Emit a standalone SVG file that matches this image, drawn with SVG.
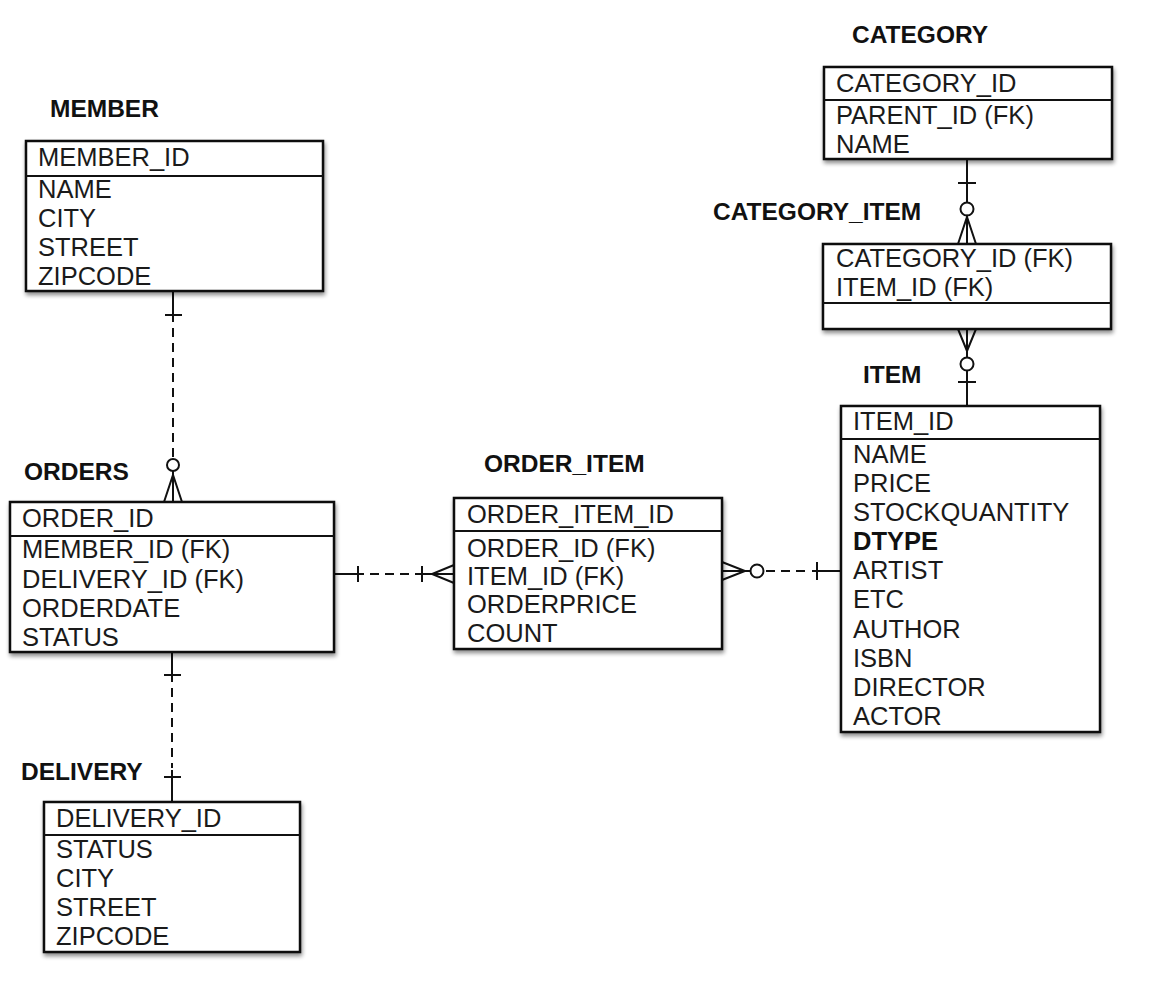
<svg xmlns="http://www.w3.org/2000/svg" width="1150" height="1000" viewBox="0 0 1150 1000">
<defs>
<filter id="sh" x="-5%" y="-5%" width="112%" height="115%">
<feGaussianBlur in="SourceAlpha" stdDeviation="2"/>
<feOffset dx="1" dy="3" result="b"/>
<feComponentTransfer><feFuncA type="linear" slope="0.45"/></feComponentTransfer>
<feMerge><feMergeNode/><feMergeNode in="SourceGraphic"/></feMerge>
</filter>
</defs>
<style>
.box{fill:#fff;stroke:#111;stroke-width:2.5}
.sep{stroke:#111;stroke-width:2}
.title{font-family:"Liberation Sans",Arial,sans-serif;font-weight:bold;font-size:24.5px;fill:#111}
.f{font-family:"Liberation Sans",Arial,sans-serif;font-size:25.5px;fill:#1a1a1a}
.b{font-weight:bold;fill:#111}
.ln{stroke:#111;stroke-width:2;fill:none}
.dash{stroke:#111;stroke-width:2;fill:none;stroke-dasharray:9 6}
.circ{stroke:#111;stroke-width:2;fill:#fff}
</style>
<rect width="1150" height="1000" fill="#fff"/>

<g id="connectors">
<!-- MEMBER - ORDERS -->
<line class="ln" x1="173" y1="291" x2="173" y2="322"/>
<line class="ln" x1="165" y1="315" x2="182" y2="315"/>
<line class="dash" x1="173" y1="328" x2="173" y2="458"/>
<circle class="circ" cx="173" cy="465" r="6"/>
<line class="ln" x1="173" y1="471" x2="173" y2="502"/>
<polyline class="ln" points="164,502 173,475 182,502"/>
<!-- ORDERS - DELIVERY -->
<line class="ln" x1="172" y1="652" x2="172" y2="682"/>
<line class="ln" x1="164" y1="675" x2="181" y2="675"/>
<line class="dash" x1="172" y1="688" x2="172" y2="768"/>
<line class="ln" x1="172" y1="770" x2="172" y2="802"/>
<line class="ln" x1="164" y1="777" x2="181" y2="777"/>
<!-- ORDERS - ORDER_ITEM -->
<line class="ln" x1="334" y1="574" x2="364" y2="574"/>
<line class="ln" x1="358" y1="566" x2="358" y2="582"/>
<line class="dash" x1="370" y1="574" x2="416" y2="574"/>
<line class="ln" x1="416" y1="574" x2="454" y2="574"/>
<line class="ln" x1="422" y1="566" x2="422" y2="582"/>
<polyline class="ln" points="454,565 432,574 454,583"/>
<!-- ORDER_ITEM - ITEM -->
<line class="ln" x1="722" y1="571" x2="750" y2="571"/>
<polyline class="ln" points="722,562 745,571 722,580"/>
<circle class="circ" cx="757" cy="571" r="6.5"/>
<line class="dash" x1="766" y1="571" x2="811" y2="571"/>
<line class="ln" x1="812" y1="571" x2="840" y2="571"/>
<line class="ln" x1="817" y1="562" x2="817" y2="580"/>
<!-- CATEGORY - CATEGORY_ITEM -->
<line class="ln" x1="967" y1="159" x2="967" y2="202"/>
<line class="ln" x1="958" y1="183" x2="976" y2="183"/>
<circle class="circ" cx="967" cy="209" r="6.5"/>
<line class="ln" x1="967" y1="215" x2="967" y2="244"/>
<polyline class="ln" points="958,244 967,217 976,244"/>
<!-- CATEGORY_ITEM - ITEM -->
<line class="ln" x1="967" y1="329" x2="967" y2="357"/>
<polyline class="ln" points="958,329 967,351 976,329"/>
<circle class="circ" cx="967" cy="364" r="6.5"/>
<line class="ln" x1="967" y1="371" x2="967" y2="406"/>
<line class="ln" x1="958" y1="382" x2="976" y2="382"/>
</g>

<g id="member">
<text class="title" x="50" y="117">MEMBER</text>
<rect class="box" x="26" y="141" width="297" height="150" filter="url(#sh)"/>
<line class="sep" x1="26" y1="176" x2="323" y2="176"/>
<text class="f" x="38" y="166">MEMBER_ID</text>
<text class="f" x="38" y="198">NAME</text>
<text class="f" x="38" y="227">CITY</text>
<text class="f" x="38" y="256">STREET</text>
<text class="f" x="38" y="285">ZIPCODE</text>
</g>

<g id="orders">
<text class="title" x="24" y="480">ORDERS</text>
<rect class="box" x="10" y="502" width="324" height="150" filter="url(#sh)"/>
<line class="sep" x1="10" y1="536" x2="334" y2="536"/>
<text class="f" x="22" y="527">ORDER_ID</text>
<text class="f" x="22" y="558">MEMBER_ID (FK)</text>
<text class="f" x="22" y="588">DELIVERY_ID (FK)</text>
<text class="f" x="22" y="617">ORDERDATE</text>
<text class="f" x="22" y="646">STATUS</text>
</g>

<g id="order_item">
<text class="title" x="484" y="472">ORDER_ITEM</text>
<rect class="box" x="454" y="498" width="268" height="151" filter="url(#sh)"/>
<line class="sep" x1="454" y1="531" x2="722" y2="531"/>
<text class="f" x="467" y="523">ORDER_ITEM_ID</text>
<text class="f" x="467" y="557">ORDER_ID (FK)</text>
<text class="f" x="467" y="585">ITEM_ID (FK)</text>
<text class="f" x="467" y="613">ORDERPRICE</text>
<text class="f" x="467" y="642">COUNT</text>
</g>

<g id="delivery">
<text class="title" x="21" y="780">DELIVERY</text>
<rect class="box" x="44" y="802" width="256" height="150" filter="url(#sh)"/>
<line class="sep" x1="44" y1="835" x2="300" y2="835"/>
<text class="f" x="56" y="827">DELIVERY_ID</text>
<text class="f" x="56" y="858">STATUS</text>
<text class="f" x="56" y="887">CITY</text>
<text class="f" x="56" y="916">STREET</text>
<text class="f" x="56" y="945">ZIPCODE</text>
</g>

<g id="category">
<text class="title" x="852" y="43">CATEGORY</text>
<rect class="box" x="824" y="67" width="288" height="92" filter="url(#sh)"/>
<line class="sep" x1="824" y1="100" x2="1112" y2="100"/>
<text class="f" x="836" y="92">CATEGORY_ID</text>
<text class="f" x="836" y="124">PARENT_ID (FK)</text>
<text class="f" x="836" y="153">NAME</text>
</g>

<g id="category_item">
<text class="title" x="713" y="220">CATEGORY_ITEM</text>
<rect class="box" x="823" y="244" width="288" height="85" filter="url(#sh)"/>
<line class="sep" x1="823" y1="303" x2="1111" y2="303"/>
<text class="f" x="836" y="267">CATEGORY_ID (FK)</text>
<text class="f" x="836" y="296">ITEM_ID (FK)</text>
</g>

<g id="item">
<text class="title" x="863" y="383">ITEM</text>
<rect class="box" x="841" y="406" width="259" height="326" filter="url(#sh)"/>
<line class="sep" x1="841" y1="439" x2="1100" y2="439"/>
<text class="f" x="853" y="430">ITEM_ID</text>
<text class="f" x="853" y="463">NAME</text>
<text class="f" x="853" y="492">PRICE</text>
<text class="f" x="853" y="521">STOCKQUANTITY</text>
<text class="f b" x="853" y="550">DTYPE</text>
<text class="f" x="853" y="579">ARTIST</text>
<text class="f" x="853" y="608">ETC</text>
<text class="f" x="853" y="638">AUTHOR</text>
<text class="f" x="853" y="667">ISBN</text>
<text class="f" x="853" y="696">DIRECTOR</text>
<text class="f" x="853" y="725">ACTOR</text>
</g>
</svg>
